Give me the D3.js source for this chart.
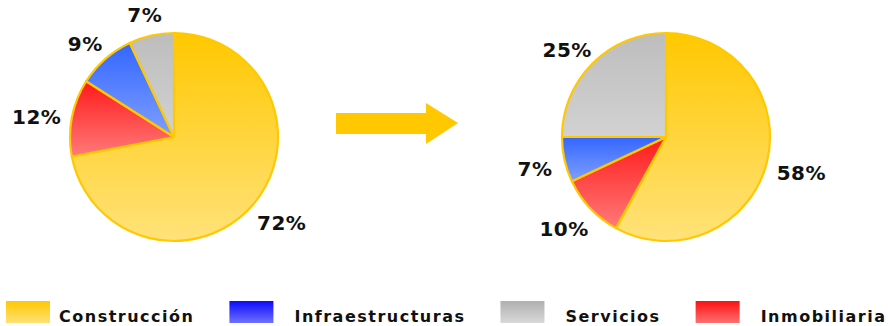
<!DOCTYPE html>
<html>
<head>
<meta charset="utf-8">
<script src="https://cdn.jsdelivr.net/npm/d3@7/dist/d3.min.js"></script>
<style>
  html, body { margin: 0; padding: 0; background: #fff; }
  svg { display: block; }
  text { font-family: "DejaVu Sans", Verdana, sans-serif; font-weight: bold; fill: #111; }
</style>
</head>
<body>
<svg id="chart" width="888" height="326"></svg>
<script>
// Business mix by segment, before and after
const categories = ["Construcción", "Inmobiliaria", "Infraestructuras", "Servicios"];
const valuesBefore = [72, 12, 9, 7];
const valuesAfter = [58, 10, 7, 25];
const legendOrder = ["Construcción", "Infraestructuras", "Servicios", "Inmobiliaria"];

// Slice gradients (top colour, bottom colour)
const sliceColors = {
  "Construcción": ["#ffc800", "#ffe27a"],
  "Inmobiliaria": ["#ff1a1a", "#ff7a7a"],
  "Infraestructuras": ["#3366ff", "#7f9fff"],
  "Servicios": ["#bdbdbd", "#d2d2d2"]
};
const swatchColors = {
  "Construcción": ["#ffc800", "#ffe278"],
  "Inmobiliaria": ["#ff1010", "#ff7070"],
  "Infraestructuras": ["#0a0aff", "#7070ff"],
  "Servicios": ["#b0b0b0", "#d8d8d8"]
};

const svg = d3.select("#chart");
const defs = svg.append("defs");
const slug = s => s.normalize("NFD").replace(/[^A-Za-z]/g, "");

function addGradient(id, [c0, c1]) {
  const g = defs.append("linearGradient").attr("id", id)
    .attr("x1", 0).attr("y1", 0).attr("x2", 0).attr("y2", 1);
  g.append("stop").attr("offset", "0%").attr("stop-color", c0);
  g.append("stop").attr("offset", "100%").attr("stop-color", c1);
}
categories.forEach(c => {
  addGradient("slice-" + slug(c), sliceColors[c]);
  addGradient("swatch-" + slug(c), swatchColors[c]);
});

const radius = 104;
const labelRadius = 121;
const pie = d3.pie().sort(null).value(d => d.value);
const arc = d3.arc().innerRadius(0).outerRadius(radius);

function drawPie(cx, cy, values) {
  const data = categories.map((c, i) => ({ name: c, value: values[i] }));
  const g = svg.append("g").attr("transform", `translate(${cx},${cy})`);
  const arcs = pie(data);
  g.selectAll("path").data(arcs).join("path")
    .attr("d", arc)
    .attr("fill", d => `url(#slice-${slug(d.data.name)})`)
    .attr("stroke", "#ffc800")
    .attr("stroke-width", 2.2)
    .attr("stroke-linejoin", "round");
  // Labels sit just outside the rim: the text box is pushed outward
  // along the slice's mid angle so its near edge roughly touches the label ring.
  g.selectAll("text").data(arcs).join("text")
    .attr("text-anchor", "middle")
    .attr("dominant-baseline", "central")
    .style("font-size", "20px")
    .style("letter-spacing", "0.5px")
    .text(d => d.data.value + "%")
    .attr("transform", function (d) {
      const a = (d.startAngle + d.endAngle) / 2;
      const s = Math.sin(a), c = -Math.cos(a);
      const bb = this.getBBox();
      const hw = bb.width * 0.38, hh = 8;
      const x = s * labelRadius + s * hw;
      const y = c * labelRadius + c * hh + 4;
      return `translate(${x},${y})`;
    });
}

drawPie(174, 137, valuesBefore);
drawPie(666, 137, valuesAfter);

// Arrow between the two pies
const arrow = d3.path();
arrow.moveTo(336, 113);
arrow.lineTo(426, 113);
arrow.lineTo(426, 103);
arrow.lineTo(458, 123);
arrow.lineTo(426, 144);
arrow.lineTo(426, 134);
arrow.lineTo(336, 134);
arrow.closePath();
svg.append("path").attr("d", arrow.toString()).attr("fill", "#ffc800");

// Legend: swatch, label, then the next entry after a fixed gap
const legend = svg.append("g");
let lx = 6;
legendOrder.forEach((name, i) => {
  const pad = i === 0 ? 53 : 65;
  const item = legend.append("g").attr("transform", `translate(${lx},301)`);
  item.append("rect")
    .attr("width", 44).attr("height", 22)
    .attr("fill", `url(#swatch-${slug(name)})`);
  const t = item.append("text")
    .attr("x", pad).attr("y", 21)
    .style("font-size", "16px")
    .style("letter-spacing", "1.5px")
    .text(name);
  lx += pad + t.node().getComputedTextLength() + 35;
});
</script>
</body>
</html>
